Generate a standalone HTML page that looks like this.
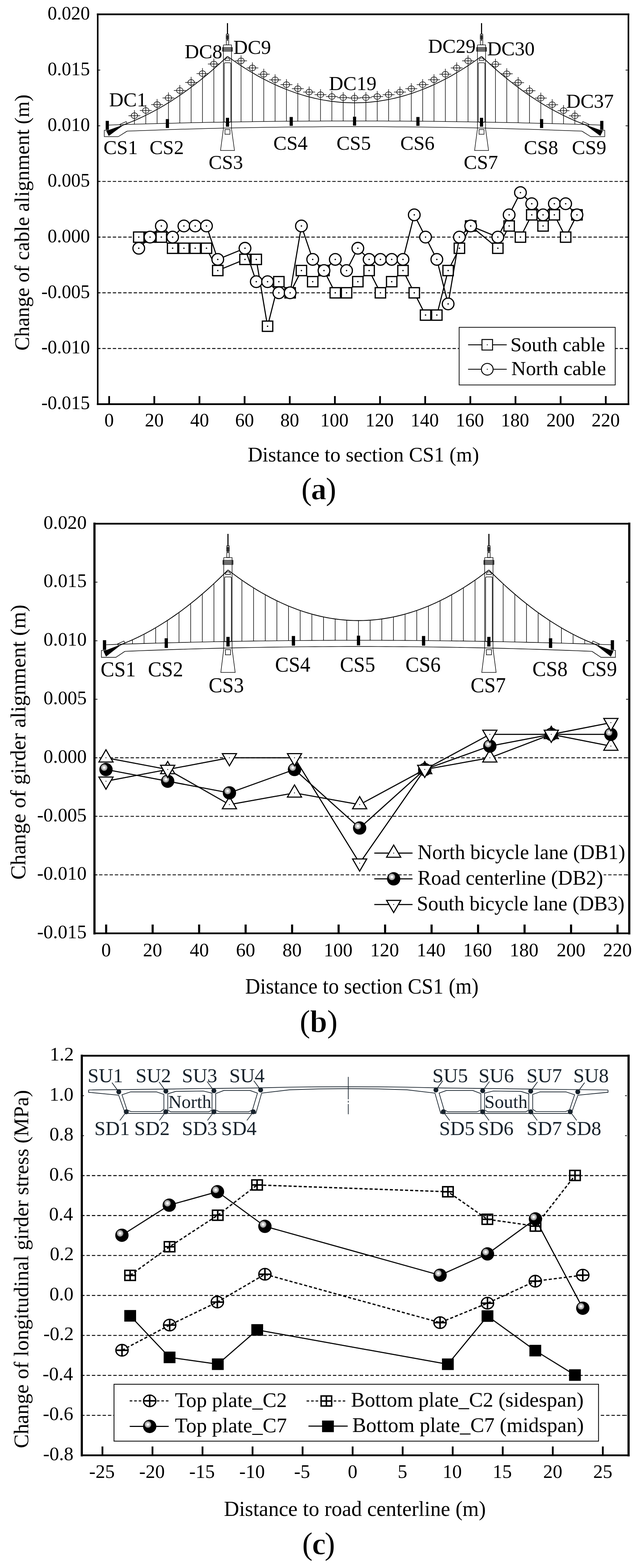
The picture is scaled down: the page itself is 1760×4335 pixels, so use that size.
<!DOCTYPE html>
<html><head><meta charset="utf-8"><title>Figure</title>
<style>html,body{margin:0;padding:0;background:#fff;}svg{display:block;}</style>
</head><body>
<svg width="1760" height="4335" viewBox="0 0 1760 4335" font-family="'Liberation Serif', 'Times New Roman', serif">
<g id="chartA">
<path d="M268.3,501.59 H1736.3" stroke="#000" stroke-width="2.4" stroke-dasharray="9.3 5.14"/>
<path d="M268.3,655.56 H1736.3" stroke="#000" stroke-width="2.4" stroke-dasharray="9.3 5.14"/>
<path d="M268.3,809.52 H1736.3" stroke="#000" stroke-width="2.4" stroke-dasharray="9.3 5.14"/>
<path d="M268.3,963.49 H1736.3" stroke="#000" stroke-width="2.4" stroke-dasharray="9.3 5.14"/>
<g fill="none" stroke="#000" stroke-width="1.5">
<path d="M300.8,345.7 L323.82,344.95 L346.85,344.22 L369.87,343.52 L392.89,342.84 L415.92,342.19 L438.94,341.57 L461.97,340.97 L484.99,340.4 L508.01,339.85 L531.04,339.33 L554.06,338.84 L577.08,338.37 L600.11,337.93 L623.13,337.52 L646.16,337.13 L669.18,336.76 L692.2,336.42 L715.23,336.11 L738.25,335.83 L761.27,335.57 L784.3,335.33 L807.32,335.13 L830.35,334.95 L853.37,334.79 L876.39,334.66 L899.42,334.56 L922.44,334.48 L945.46,334.43 L968.49,334.4 L991.51,334.4 L1014.54,334.43 L1037.56,334.48 L1060.58,334.56 L1083.61,334.67 L1106.63,334.8 L1129.65,334.95 L1152.68,335.14 L1175.7,335.34 L1198.73,335.58 L1221.75,335.84 L1244.77,336.13 L1267.8,336.44 L1290.82,336.78 L1313.84,337.14 L1336.87,337.53 L1359.89,337.95 L1382.92,338.39 L1405.94,338.86 L1428.96,339.36 L1451.99,339.88 L1475.01,340.42 L1498.03,341 L1521.06,341.59 L1544.08,342.22 L1567.11,342.87 L1590.13,343.55 L1613.15,344.25 L1636.18,344.98 L1659.2,345.73" />
<path d="M351.2,362.5 L372.5,361.68 L393.8,360.89 L415.09,360.13 L436.39,359.39 L457.69,358.68 L478.99,358.01 L500.29,357.36 L521.59,356.73 L542.88,356.14 L564.18,355.57 L585.48,355.04 L606.78,354.53 L628.08,354.05 L649.38,353.6 L670.67,353.17 L691.97,352.78 L713.27,352.41 L734.57,352.07 L755.87,351.76 L777.17,351.48 L798.46,351.22 L819.76,351 L841.06,350.8 L862.36,350.63 L883.66,350.49 L904.96,350.37 L926.25,350.29 L947.55,350.23 L968.85,350.2 L990.15,350.2 L1011.45,350.23 L1032.75,350.29 L1054.04,350.37 L1075.34,350.49 L1096.64,350.63 L1117.94,350.8 L1139.24,351 L1160.54,351.22 L1181.83,351.48 L1203.13,351.76 L1224.43,352.07 L1245.73,352.41 L1267.03,352.78 L1288.33,353.17 L1309.62,353.6 L1330.92,354.05 L1352.22,354.53 L1373.52,355.04 L1394.82,355.57 L1416.12,356.14 L1437.41,356.73 L1458.71,357.36 L1480.01,358.01 L1501.31,358.68 L1522.61,359.39 L1543.91,360.13 L1565.2,360.89 L1586.5,361.68 L1607.8,362.5" />
<polyline points="300.6,360.2 288.1,360.2 288.1,377.8 326.8,377.8 351.2,362.5" />
<polygon points="294,362.3 300.6,375.4 341.2,345.3" fill="#000" stroke="#000" stroke-width="0.8"/>
<polygon points="331.5,343.6 348.7,336.3 351.2,341.5 334,348.8" />
<g transform="matrix(-1,0,0,1,1959,0)">
<polyline points="300.6,360.2 288.1,360.2 288.1,377.8 326.8,377.8 351.2,362.5" />
<polygon points="294,362.3 300.6,375.4 341.2,345.3" fill="#000" stroke="#000" stroke-width="0.8"/>
<polygon points="331.5,343.6 348.7,336.3 351.2,341.5 334,348.8" />
</g>
<path d="M341.2,345.12 L348.57,342.38 L355.93,339.53 L363.3,336.57 L370.67,333.5 L378.03,330.31 L385.4,327.02 L392.77,323.61 L400.13,320.09 L407.5,316.46 L414.87,312.72 L422.23,308.87 L429.6,304.91 L436.97,300.83 L444.33,296.64 L451.7,292.34 L459.07,287.93 L466.43,283.41 L473.8,278.78 L481.17,274.03 L488.53,269.17 L495.9,264.21 L503.27,259.13 L510.63,253.94 L518,248.63 L525.37,243.22 L532.73,237.69 L540.1,232.06 L547.47,226.31 L554.83,220.45 L562.2,214.47 L569.57,208.39 L576.93,202.2 L584.3,195.89 L591.67,189.47 L599.03,182.94 L606.4,176.3 L613.77,169.55 L621.13,162.69 L628.5,155.71" stroke-width="2"/>
<path d="M628.5,155.71 L637.39,162.03 L646.27,168.3 L655.16,174.41 L664.04,180.35 L672.93,186.12 L681.82,191.73 L690.7,197.17 L699.59,202.45 L708.47,207.57 L717.36,212.52 L726.25,217.3 L735.13,221.92 L744.02,226.37 L752.91,230.66 L761.79,234.79 L770.68,238.75 L779.56,242.54 L788.45,246.17 L797.34,249.63 L806.22,252.93 L815.11,256.07 L823.99,259.04 L832.88,261.84 L841.77,264.48 L850.65,266.96 L859.54,269.27 L868.42,271.41 L877.31,273.39 L886.2,275.21 L895.08,276.86 L903.97,278.34 L912.85,279.66 L921.74,280.81 L930.63,281.8 L939.51,282.63 L948.4,283.29 L957.28,283.78 L966.17,284.11 L975.06,284.28 L983.94,284.28 L992.83,284.11 L1001.72,283.78 L1010.6,283.29 L1019.49,282.63 L1028.37,281.8 L1037.26,280.81 L1046.15,279.66 L1055.03,278.34 L1063.92,276.86 L1072.8,275.21 L1081.69,273.39 L1090.58,271.41 L1099.46,269.27 L1108.35,266.96 L1117.23,264.48 L1126.12,261.84 L1135.01,259.04 L1143.89,256.07 L1152.78,252.93 L1161.66,249.63 L1170.55,246.17 L1179.44,242.54 L1188.32,238.75 L1197.21,234.79 L1206.09,230.66 L1214.98,226.37 L1223.87,221.92 L1232.75,217.3 L1241.64,212.52 L1250.53,207.57 L1259.41,202.45 L1268.3,197.17 L1277.18,191.73 L1286.07,186.12 L1294.96,180.35 L1303.84,174.41 L1312.73,168.3 L1321.61,162.03 L1330.5,155.71" stroke-width="2"/>
<path d="M1330.5,155.71 L1337.87,162.69 L1345.23,169.55 L1352.6,176.3 L1359.97,182.94 L1367.33,189.47 L1374.7,195.89 L1382.07,202.2 L1389.43,208.39 L1396.8,214.47 L1404.17,220.45 L1411.53,226.31 L1418.9,232.06 L1426.27,237.69 L1433.63,243.22 L1441,248.63 L1448.37,253.94 L1455.73,259.13 L1463.1,264.21 L1470.47,269.17 L1477.83,274.03 L1485.2,278.78 L1492.57,283.41 L1499.93,287.93 L1507.3,292.34 L1514.67,296.64 L1522.03,300.83 L1529.4,304.91 L1536.77,308.87 L1544.13,312.72 L1551.5,316.46 L1558.87,320.09 L1566.23,323.61 L1573.6,327.02 L1580.97,330.31 L1588.33,333.5 L1595.7,336.57 L1603.07,339.53 L1610.43,342.38 L1617.8,345.12" stroke-width="2"/>
<path d="M371.4,304.59 V343.47 M402.74,290.22 V342.56 M434.08,273.84 V341.7 M465.42,255.44 V340.88 M496.76,235.02 V340.12 M528.1,212.58 V339.4 M559.44,188.13 V338.73 M590.78,161.65 V338.11 M666,153.03 V336.81 M697.36,172.54 V336.35 M728.72,190 V335.94 M760.08,205.41 V335.58 M791.44,218.75 V335.27 M822.8,230.05 V335 M854.16,239.29 V334.79 M885.52,246.47 V334.62 M916.88,251.6 V334.5 M948.24,254.68 V334.42 M979.6,255.7 V334.4 M1010.96,254.67 V334.42 M1042.32,251.58 V334.5 M1073.68,246.43 V334.62 M1105.04,239.24 V334.79 M1136.4,229.98 V335 M1167.76,218.68 V335.27 M1199.12,205.31 V335.58 M1230.48,189.9 V335.95 M1261.84,172.43 V336.36 M1293.2,152.9 V336.81 M1368.9,162.25 V338.12 M1400.25,188.69 V338.74 M1431.6,213.1 V339.41 M1462.95,235.5 V340.13 M1494.3,255.88 V340.9 M1525.65,274.24 V341.72 M1557,290.58 V342.58 M1588.35,304.91 V343.49" />
<path d="M617.2,124.2 H639.6 V356.1 M617.2,124.2 V356.1" />
<rect x="615" y="131.3" width="27" height="10.4" />
<path d="M615,133.9 H642" />
<path d="M615,136.5 H642" />
<path d="M615,139.1 H642" />
<rect x="619.6" y="173.4" width="18.1" height="164.5" rx="3" />
<path d="M621.5,166.8 A7,6.5 0 0 1 635.5,166.8 Z" />
<rect x="625.3" y="94.4" width="6.6" height="29.8" />
<path d="M623.9,99.5 H633.1" />
<path d="M623.9,102.8 H633.1" />
<path d="M623.9,106.1 H633.1" />
<rect x="627.1" y="96.6" width="2.8" height="16" fill="#000" stroke="none"/>
<path d="M628.5,64 V94.4" stroke-width="3"/>
<path d="M617.2,356.1 L609.3,416 H647.9 L639.6,356.1" />
<rect x="621.6" y="358.1" width="13.8" height="13.2" />
<path d="M1319.2,124.2 H1341.6 V356.1 M1319.2,124.2 V356.1" />
<rect x="1317" y="131.3" width="27" height="10.4" />
<path d="M1317,133.9 H1344" />
<path d="M1317,136.5 H1344" />
<path d="M1317,139.1 H1344" />
<rect x="1321.6" y="173.4" width="18.1" height="164.5" rx="3" />
<path d="M1323.5,166.8 A7,6.5 0 0 1 1337.5,166.8 Z" />
<rect x="1327.3" y="94.4" width="6.6" height="29.8" />
<path d="M1325.9,99.5 H1335.1" />
<path d="M1325.9,102.8 H1335.1" />
<path d="M1325.9,106.1 H1335.1" />
<rect x="1329.1" y="96.6" width="2.8" height="16" fill="#000" stroke="none"/>
<path d="M1330.5,64 V94.4" stroke-width="3"/>
<path d="M1319.2,356.1 L1311.3,416 H1349.9 L1341.6,356.1" />
<rect x="1323.6" y="358.1" width="13.8" height="13.2" />
</g>
<g fill="#000">
<rect x="292" y="334.15" width="8.8" height="24.6" />
<rect x="458.1" y="329.26" width="8.8" height="24.6" />
<rect x="624.2" y="325.72" width="8.8" height="24.6" />
<rect x="800.2" y="323.45" width="8.8" height="24.6" />
<rect x="975.25" y="322.7" width="8.8" height="24.6" />
<rect x="1150.35" y="323.45" width="8.8" height="24.6" />
<rect x="1326" y="325.72" width="8.8" height="24.6" />
<rect x="1492" y="329.25" width="8.8" height="24.6" />
<rect x="1658.3" y="334.15" width="8.8" height="24.6" />
</g>
<g fill="none" stroke="#000" stroke-width="1.5">
<ellipse cx="371.4" cy="319.89" rx="9" ry="7.8" />
<ellipse cx="402.74" cy="305.52" rx="9" ry="7.8" />
<ellipse cx="434.08" cy="289.14" rx="9" ry="7.8" />
<ellipse cx="465.42" cy="270.74" rx="9" ry="7.8" />
<ellipse cx="496.76" cy="250.32" rx="9" ry="7.8" />
<ellipse cx="528.1" cy="227.88" rx="9" ry="7.8" />
<ellipse cx="559.44" cy="203.43" rx="9" ry="7.8" />
<ellipse cx="590.78" cy="176.95" rx="9" ry="7.8" />
<ellipse cx="666" cy="168.33" rx="9" ry="7.8" />
<ellipse cx="697.36" cy="187.84" rx="9" ry="7.8" />
<ellipse cx="728.72" cy="205.3" rx="9" ry="7.8" />
<ellipse cx="760.08" cy="220.71" rx="9" ry="7.8" />
<ellipse cx="791.44" cy="234.05" rx="9" ry="7.8" />
<ellipse cx="822.8" cy="245.35" rx="9" ry="7.8" />
<ellipse cx="854.16" cy="254.59" rx="9" ry="7.8" />
<ellipse cx="885.52" cy="261.77" rx="9" ry="7.8" />
<ellipse cx="916.88" cy="266.9" rx="9" ry="7.8" />
<ellipse cx="948.24" cy="269.98" rx="9" ry="7.8" />
<ellipse cx="979.6" cy="271" rx="9" ry="7.8" />
<ellipse cx="1010.96" cy="269.97" rx="9" ry="7.8" />
<ellipse cx="1042.32" cy="266.88" rx="9" ry="7.8" />
<ellipse cx="1073.68" cy="261.73" rx="9" ry="7.8" />
<ellipse cx="1105.04" cy="254.54" rx="9" ry="7.8" />
<ellipse cx="1136.4" cy="245.28" rx="9" ry="7.8" />
<ellipse cx="1167.76" cy="233.98" rx="9" ry="7.8" />
<ellipse cx="1199.12" cy="220.61" rx="9" ry="7.8" />
<ellipse cx="1230.48" cy="205.2" rx="9" ry="7.8" />
<ellipse cx="1261.84" cy="187.73" rx="9" ry="7.8" />
<ellipse cx="1293.2" cy="168.2" rx="9" ry="7.8" />
<ellipse cx="1368.9" cy="177.55" rx="9" ry="7.8" />
<ellipse cx="1400.25" cy="203.99" rx="9" ry="7.8" />
<ellipse cx="1431.6" cy="228.4" rx="9" ry="7.8" />
<ellipse cx="1462.95" cy="250.8" rx="9" ry="7.8" />
<ellipse cx="1494.3" cy="271.18" rx="9" ry="7.8" />
<ellipse cx="1525.65" cy="289.54" rx="9" ry="7.8" />
<ellipse cx="1557" cy="305.88" rx="9" ry="7.8" />
<ellipse cx="1588.35" cy="320.21" rx="9" ry="7.8" />
<path d="M355,319.89 H387.8 M386.34,305.52 H419.14 M417.68,289.14 H450.48 M449.02,270.74 H481.82 M480.36,250.32 H513.16 M511.7,227.88 H544.5 M543.04,203.43 H575.84 M574.38,176.95 H607.18 M649.6,168.33 H682.4 M680.96,187.84 H713.76 M712.32,205.3 H745.12 M743.68,220.71 H776.48 M775.04,234.05 H807.84 M806.4,245.35 H839.2 M837.76,254.59 H870.56 M869.12,261.77 H901.92 M900.48,266.9 H933.28 M931.84,269.98 H964.64 M963.2,271 H996 M994.56,269.97 H1027.36 M1025.92,266.88 H1058.72 M1057.28,261.73 H1090.08 M1088.64,254.54 H1121.44 M1120,245.28 H1152.8 M1151.36,233.98 H1184.16 M1182.72,220.61 H1215.52 M1214.08,205.2 H1246.88 M1245.44,187.73 H1278.24 M1276.8,168.2 H1309.6 M1352.5,177.55 H1385.3 M1383.85,203.99 H1416.65 M1415.2,228.4 H1448 M1446.55,250.8 H1479.35 M1477.9,271.18 H1510.7 M1509.25,289.54 H1542.05 M1540.6,305.88 H1573.4 M1571.95,320.21 H1604.75" />
</g>
<text x="285.91" y="426" font-size="55">CS1</text>
<text x="413.18" y="426" font-size="55">CS2</text>
<text x="576.61" y="467" font-size="55">CS3</text>
<text x="755.33" y="413.8" font-size="55">CS4</text>
<text x="929.86" y="413.8" font-size="55">CS5</text>
<text x="1105.99" y="413.8" font-size="55">CS6</text>
<text x="1281.24" y="467" font-size="55">CS7</text>
<text x="1447.56" y="425.5" font-size="55">CS8</text>
<text x="1580.36" y="425.5" font-size="55">CS9</text>
<text x="301.5" y="294.2" font-size="55">DC1</text>
<text x="510.25" y="161.2" font-size="55">DC8</text>
<text x="644.75" y="149.4" font-size="55">DC9</text>
<text x="908.8" y="248.9" font-size="55">DC19</text>
<text x="1182.8" y="146" font-size="55">DC29</text>
<text x="1345.9" y="153" font-size="55">DC30</text>
<text x="1564.28" y="297.8" font-size="55">DC37</text>
<path d="M270,39.7 H276.9 M1728.6,39.7 H1733.8 M270,193.66 H276.9 M1728.6,193.66 H1733.8 M270,347.63 H276.9 M1728.6,347.63 H1733.8 M270,501.59 H276.9 M1728.6,501.59 H1733.8 M270,655.56 H276.9 M1728.6,655.56 H1733.8 M270,809.52 H276.9 M1728.6,809.52 H1733.8 M270,963.49 H276.9 M1728.6,963.49 H1733.8 M270,1117.45 H276.9 M1728.6,1117.45 H1733.8" stroke="#000" stroke-width="2"/>
<path d="M301.6,1117.45 V1095 M426.34,1117.45 V1095 M551.08,1117.45 V1095 M675.82,1117.45 V1095 M800.56,1117.45 V1095 M925.3,1117.45 V1095 M1050.04,1117.45 V1095 M1174.78,1117.45 V1095 M1299.52,1117.45 V1095 M1424.26,1117.45 V1095 M1549,1117.45 V1095 M1673.74,1117.45 V1095" stroke="#000" stroke-width="4.8"/>
<path d="M270,39.7 H1736.3 M270,1117.45 H1736.3" stroke="#000" stroke-width="4.8" stroke-linecap="square"/><path d="M270,39.7 V1117.45 M1736.3,39.7 V1117.45" stroke="#000" stroke-width="4.3" stroke-linecap="square"/>
<text x="131.58" y="53.7" font-size="52">0.020</text>
<text x="131.58" y="207.66" font-size="52">0.015</text>
<text x="131.58" y="361.63" font-size="52">0.010</text>
<text x="131.58" y="515.59" font-size="52">0.005</text>
<text x="131.58" y="669.56" font-size="52">0.000</text>
<text x="114.16" y="823.52" font-size="52">-0.005</text>
<text x="114.16" y="977.49" font-size="52">-0.010</text>
<text x="114.16" y="1131.45" font-size="52">-0.015</text>
<text x="288.6" y="1179.4" font-size="52">0</text>
<text x="400.21" y="1179.4" font-size="52">20</text>
<text x="525.6" y="1179.4" font-size="52">40</text>
<text x="649.69" y="1179.4" font-size="52">60</text>
<text x="774.56" y="1179.4" font-size="52">80</text>
<text x="885" y="1179.4" font-size="52">100</text>
<text x="1009.74" y="1179.4" font-size="52">120</text>
<text x="1134.48" y="1179.4" font-size="52">140</text>
<text x="1259.22" y="1179.4" font-size="52">160</text>
<text x="1383.96" y="1179.4" font-size="52">180</text>
<text x="1509.87" y="1179.4" font-size="52">200</text>
<text x="1634.61" y="1179.4" font-size="52">220</text>
<text transform="translate(80,969.13) rotate(-90)" x="0" y="0" font-size="56.9">Change of cable alignment (m)</text>
<text x="684.39" y="1275.8" font-size="56.7">Distance to section CS1 (m)</text>
<g font-size="86"><text x="832.83" y="1380.5">(</text><text x="900.16" y="1380.5">)</text><text x="859.25" y="1380.5" font-weight="bold" stroke="#fff" stroke-width="1.2">a</text></g>
<polyline points="383.4,655.56 414.58,655.56 445.76,655.56 476.94,686.35 508.12,686.35 539.3,686.35 570.48,686.35 601.66,747.94 676.9,717.14 708.08,717.14 739.26,901.9 770.44,778.73 801.62,809.52 832.8,747.94 863.98,778.73 895.16,747.94 926.34,809.52 957.52,809.52 988.7,778.73 1019.88,747.94 1051.06,809.52 1082.24,778.73 1113.42,747.94 1144.6,809.52 1175.78,871.11 1206.96,871.11 1238.14,747.94 1269.32,686.35 1300.5,624.76 1375.5,686.35 1406.73,624.76 1437.96,655.56 1469.19,593.97 1500.42,624.76 1531.65,593.97 1562.88,655.56 1594.11,593.97" fill="none" stroke="#000" stroke-width="3" stroke-linejoin="round"/>
<g transform="translate(383.4,655.56)"><rect x="-14.35" y="-14.2" width="28.7" height="28.4" fill="#fff" stroke="#000" stroke-width="3.4"/><circle r="2" fill="#000"/></g><g transform="translate(414.58,655.56)"><rect x="-14.35" y="-14.2" width="28.7" height="28.4" fill="#fff" stroke="#000" stroke-width="3.4"/><circle r="2" fill="#000"/></g><g transform="translate(445.76,655.56)"><rect x="-14.35" y="-14.2" width="28.7" height="28.4" fill="#fff" stroke="#000" stroke-width="3.4"/><circle r="2" fill="#000"/></g><g transform="translate(476.94,686.35)"><rect x="-14.35" y="-14.2" width="28.7" height="28.4" fill="#fff" stroke="#000" stroke-width="3.4"/><circle r="2" fill="#000"/></g><g transform="translate(508.12,686.35)"><rect x="-14.35" y="-14.2" width="28.7" height="28.4" fill="#fff" stroke="#000" stroke-width="3.4"/><circle r="2" fill="#000"/></g><g transform="translate(539.3,686.35)"><rect x="-14.35" y="-14.2" width="28.7" height="28.4" fill="#fff" stroke="#000" stroke-width="3.4"/><circle r="2" fill="#000"/></g><g transform="translate(570.48,686.35)"><rect x="-14.35" y="-14.2" width="28.7" height="28.4" fill="#fff" stroke="#000" stroke-width="3.4"/><circle r="2" fill="#000"/></g><g transform="translate(601.66,747.94)"><rect x="-14.35" y="-14.2" width="28.7" height="28.4" fill="#fff" stroke="#000" stroke-width="3.4"/><circle r="2" fill="#000"/></g><g transform="translate(676.9,717.14)"><rect x="-14.35" y="-14.2" width="28.7" height="28.4" fill="#fff" stroke="#000" stroke-width="3.4"/><circle r="2" fill="#000"/></g><g transform="translate(708.08,717.14)"><rect x="-14.35" y="-14.2" width="28.7" height="28.4" fill="#fff" stroke="#000" stroke-width="3.4"/><circle r="2" fill="#000"/></g><g transform="translate(739.26,901.9)"><rect x="-14.35" y="-14.2" width="28.7" height="28.4" fill="#fff" stroke="#000" stroke-width="3.4"/><circle r="2" fill="#000"/></g><g transform="translate(770.44,778.73)"><rect x="-14.35" y="-14.2" width="28.7" height="28.4" fill="#fff" stroke="#000" stroke-width="3.4"/><circle r="2" fill="#000"/></g><g transform="translate(801.62,809.52)"><rect x="-14.35" y="-14.2" width="28.7" height="28.4" fill="#fff" stroke="#000" stroke-width="3.4"/><circle r="2" fill="#000"/></g><g transform="translate(832.8,747.94)"><rect x="-14.35" y="-14.2" width="28.7" height="28.4" fill="#fff" stroke="#000" stroke-width="3.4"/><circle r="2" fill="#000"/></g><g transform="translate(863.98,778.73)"><rect x="-14.35" y="-14.2" width="28.7" height="28.4" fill="#fff" stroke="#000" stroke-width="3.4"/><circle r="2" fill="#000"/></g><g transform="translate(895.16,747.94)"><rect x="-14.35" y="-14.2" width="28.7" height="28.4" fill="#fff" stroke="#000" stroke-width="3.4"/><circle r="2" fill="#000"/></g><g transform="translate(926.34,809.52)"><rect x="-14.35" y="-14.2" width="28.7" height="28.4" fill="#fff" stroke="#000" stroke-width="3.4"/><circle r="2" fill="#000"/></g><g transform="translate(957.52,809.52)"><rect x="-14.35" y="-14.2" width="28.7" height="28.4" fill="#fff" stroke="#000" stroke-width="3.4"/><circle r="2" fill="#000"/></g><g transform="translate(988.7,778.73)"><rect x="-14.35" y="-14.2" width="28.7" height="28.4" fill="#fff" stroke="#000" stroke-width="3.4"/><circle r="2" fill="#000"/></g><g transform="translate(1019.88,747.94)"><rect x="-14.35" y="-14.2" width="28.7" height="28.4" fill="#fff" stroke="#000" stroke-width="3.4"/><circle r="2" fill="#000"/></g><g transform="translate(1051.06,809.52)"><rect x="-14.35" y="-14.2" width="28.7" height="28.4" fill="#fff" stroke="#000" stroke-width="3.4"/><circle r="2" fill="#000"/></g><g transform="translate(1082.24,778.73)"><rect x="-14.35" y="-14.2" width="28.7" height="28.4" fill="#fff" stroke="#000" stroke-width="3.4"/><circle r="2" fill="#000"/></g><g transform="translate(1113.42,747.94)"><rect x="-14.35" y="-14.2" width="28.7" height="28.4" fill="#fff" stroke="#000" stroke-width="3.4"/><circle r="2" fill="#000"/></g><g transform="translate(1144.6,809.52)"><rect x="-14.35" y="-14.2" width="28.7" height="28.4" fill="#fff" stroke="#000" stroke-width="3.4"/><circle r="2" fill="#000"/></g><g transform="translate(1175.78,871.11)"><rect x="-14.35" y="-14.2" width="28.7" height="28.4" fill="#fff" stroke="#000" stroke-width="3.4"/><circle r="2" fill="#000"/></g><g transform="translate(1206.96,871.11)"><rect x="-14.35" y="-14.2" width="28.7" height="28.4" fill="#fff" stroke="#000" stroke-width="3.4"/><circle r="2" fill="#000"/></g><g transform="translate(1238.14,747.94)"><rect x="-14.35" y="-14.2" width="28.7" height="28.4" fill="#fff" stroke="#000" stroke-width="3.4"/><circle r="2" fill="#000"/></g><g transform="translate(1269.32,686.35)"><rect x="-14.35" y="-14.2" width="28.7" height="28.4" fill="#fff" stroke="#000" stroke-width="3.4"/><circle r="2" fill="#000"/></g><g transform="translate(1300.5,624.76)"><rect x="-14.35" y="-14.2" width="28.7" height="28.4" fill="#fff" stroke="#000" stroke-width="3.4"/><circle r="2" fill="#000"/></g><g transform="translate(1375.5,686.35)"><rect x="-14.35" y="-14.2" width="28.7" height="28.4" fill="#fff" stroke="#000" stroke-width="3.4"/><circle r="2" fill="#000"/></g><g transform="translate(1406.73,624.76)"><rect x="-14.35" y="-14.2" width="28.7" height="28.4" fill="#fff" stroke="#000" stroke-width="3.4"/><circle r="2" fill="#000"/></g><g transform="translate(1437.96,655.56)"><rect x="-14.35" y="-14.2" width="28.7" height="28.4" fill="#fff" stroke="#000" stroke-width="3.4"/><circle r="2" fill="#000"/></g><g transform="translate(1469.19,593.97)"><rect x="-14.35" y="-14.2" width="28.7" height="28.4" fill="#fff" stroke="#000" stroke-width="3.4"/><circle r="2" fill="#000"/></g><g transform="translate(1500.42,624.76)"><rect x="-14.35" y="-14.2" width="28.7" height="28.4" fill="#fff" stroke="#000" stroke-width="3.4"/><circle r="2" fill="#000"/></g><g transform="translate(1531.65,593.97)"><rect x="-14.35" y="-14.2" width="28.7" height="28.4" fill="#fff" stroke="#000" stroke-width="3.4"/><circle r="2" fill="#000"/></g><g transform="translate(1562.88,655.56)"><rect x="-14.35" y="-14.2" width="28.7" height="28.4" fill="#fff" stroke="#000" stroke-width="3.4"/><circle r="2" fill="#000"/></g><g transform="translate(1594.11,593.97)"><rect x="-14.35" y="-14.2" width="28.7" height="28.4" fill="#fff" stroke="#000" stroke-width="3.4"/><circle r="2" fill="#000"/></g>
<polyline points="383.4,686.35 414.58,655.56 445.76,624.76 476.94,655.56 508.12,624.76 539.3,624.76 570.48,624.76 601.66,717.14 676.9,686.35 708.08,778.73 739.26,778.73 770.44,809.52 801.62,809.52 832.8,624.76 863.98,717.14 895.16,747.94 926.34,717.14 957.52,747.94 988.7,686.35 1019.88,717.14 1051.06,717.14 1082.24,717.14 1113.42,717.14 1144.6,593.97 1175.78,655.56 1206.96,717.14 1238.14,840.31 1269.32,655.56 1300.5,624.76 1375.5,655.56 1406.73,593.97 1437.96,532.39 1469.19,563.18 1500.42,593.97 1531.65,563.18 1562.88,563.18 1594.11,593.97" fill="none" stroke="#000" stroke-width="3" stroke-linejoin="round"/>
<g transform="translate(383.4,686.35)"><circle r="16.1" fill="#fff" stroke="#000" stroke-width="3.3"/><circle r="2" fill="#000"/></g><g transform="translate(414.58,655.56)"><circle r="16.1" fill="#fff" stroke="#000" stroke-width="3.3"/><circle r="2" fill="#000"/></g><g transform="translate(445.76,624.76)"><circle r="16.1" fill="#fff" stroke="#000" stroke-width="3.3"/><circle r="2" fill="#000"/></g><g transform="translate(476.94,655.56)"><circle r="16.1" fill="#fff" stroke="#000" stroke-width="3.3"/><circle r="2" fill="#000"/></g><g transform="translate(508.12,624.76)"><circle r="16.1" fill="#fff" stroke="#000" stroke-width="3.3"/><circle r="2" fill="#000"/></g><g transform="translate(539.3,624.76)"><circle r="16.1" fill="#fff" stroke="#000" stroke-width="3.3"/><circle r="2" fill="#000"/></g><g transform="translate(570.48,624.76)"><circle r="16.1" fill="#fff" stroke="#000" stroke-width="3.3"/><circle r="2" fill="#000"/></g><g transform="translate(601.66,717.14)"><circle r="16.1" fill="#fff" stroke="#000" stroke-width="3.3"/><circle r="2" fill="#000"/></g><g transform="translate(676.9,686.35)"><circle r="16.1" fill="#fff" stroke="#000" stroke-width="3.3"/><circle r="2" fill="#000"/></g><g transform="translate(708.08,778.73)"><circle r="16.1" fill="#fff" stroke="#000" stroke-width="3.3"/><circle r="2" fill="#000"/></g><g transform="translate(739.26,778.73)"><circle r="16.1" fill="#fff" stroke="#000" stroke-width="3.3"/><circle r="2" fill="#000"/></g><g transform="translate(770.44,809.52)"><circle r="16.1" fill="#fff" stroke="#000" stroke-width="3.3"/><circle r="2" fill="#000"/></g><g transform="translate(801.62,809.52)"><circle r="16.1" fill="#fff" stroke="#000" stroke-width="3.3"/><circle r="2" fill="#000"/></g><g transform="translate(832.8,624.76)"><circle r="16.1" fill="#fff" stroke="#000" stroke-width="3.3"/><circle r="2" fill="#000"/></g><g transform="translate(863.98,717.14)"><circle r="16.1" fill="#fff" stroke="#000" stroke-width="3.3"/><circle r="2" fill="#000"/></g><g transform="translate(895.16,747.94)"><circle r="16.1" fill="#fff" stroke="#000" stroke-width="3.3"/><circle r="2" fill="#000"/></g><g transform="translate(926.34,717.14)"><circle r="16.1" fill="#fff" stroke="#000" stroke-width="3.3"/><circle r="2" fill="#000"/></g><g transform="translate(957.52,747.94)"><circle r="16.1" fill="#fff" stroke="#000" stroke-width="3.3"/><circle r="2" fill="#000"/></g><g transform="translate(988.7,686.35)"><circle r="16.1" fill="#fff" stroke="#000" stroke-width="3.3"/><circle r="2" fill="#000"/></g><g transform="translate(1019.88,717.14)"><circle r="16.1" fill="#fff" stroke="#000" stroke-width="3.3"/><circle r="2" fill="#000"/></g><g transform="translate(1051.06,717.14)"><circle r="16.1" fill="#fff" stroke="#000" stroke-width="3.3"/><circle r="2" fill="#000"/></g><g transform="translate(1082.24,717.14)"><circle r="16.1" fill="#fff" stroke="#000" stroke-width="3.3"/><circle r="2" fill="#000"/></g><g transform="translate(1113.42,717.14)"><circle r="16.1" fill="#fff" stroke="#000" stroke-width="3.3"/><circle r="2" fill="#000"/></g><g transform="translate(1144.6,593.97)"><circle r="16.1" fill="#fff" stroke="#000" stroke-width="3.3"/><circle r="2" fill="#000"/></g><g transform="translate(1175.78,655.56)"><circle r="16.1" fill="#fff" stroke="#000" stroke-width="3.3"/><circle r="2" fill="#000"/></g><g transform="translate(1206.96,717.14)"><circle r="16.1" fill="#fff" stroke="#000" stroke-width="3.3"/><circle r="2" fill="#000"/></g><g transform="translate(1238.14,840.31)"><circle r="16.1" fill="#fff" stroke="#000" stroke-width="3.3"/><circle r="2" fill="#000"/></g><g transform="translate(1269.32,655.56)"><circle r="16.1" fill="#fff" stroke="#000" stroke-width="3.3"/><circle r="2" fill="#000"/></g><g transform="translate(1300.5,624.76)"><circle r="16.1" fill="#fff" stroke="#000" stroke-width="3.3"/><circle r="2" fill="#000"/></g><g transform="translate(1375.5,655.56)"><circle r="16.1" fill="#fff" stroke="#000" stroke-width="3.3"/><circle r="2" fill="#000"/></g><g transform="translate(1406.73,593.97)"><circle r="16.1" fill="#fff" stroke="#000" stroke-width="3.3"/><circle r="2" fill="#000"/></g><g transform="translate(1437.96,532.39)"><circle r="16.1" fill="#fff" stroke="#000" stroke-width="3.3"/><circle r="2" fill="#000"/></g><g transform="translate(1469.19,563.18)"><circle r="16.1" fill="#fff" stroke="#000" stroke-width="3.3"/><circle r="2" fill="#000"/></g><g transform="translate(1500.42,593.97)"><circle r="16.1" fill="#fff" stroke="#000" stroke-width="3.3"/><circle r="2" fill="#000"/></g><g transform="translate(1531.65,563.18)"><circle r="16.1" fill="#fff" stroke="#000" stroke-width="3.3"/><circle r="2" fill="#000"/></g><g transform="translate(1562.88,563.18)"><circle r="16.1" fill="#fff" stroke="#000" stroke-width="3.3"/><circle r="2" fill="#000"/></g><g transform="translate(1594.11,593.97)"><circle r="16.1" fill="#fff" stroke="#000" stroke-width="3.3"/><circle r="2" fill="#000"/></g>
<rect x="1268.6" y="904.9" width="431.2" height="159.4" fill="#fff" stroke="#000" stroke-width="2"/>
<path d="M1293.3,953.2 H1400 M1293.3,1020.9 H1400" stroke="#000" stroke-width="2.4"/>
<rect x="1331.7" y="938.6" width="29.2" height="29.2" fill="#fff" stroke="#000" stroke-width="2.6"/><rect x="1345.1" y="952" width="2.4" height="2.4"/>
<circle cx="1346.3" cy="1020.9" r="16.2" fill="#fff" stroke="#000" stroke-width="2.6"/><rect x="1345.1" y="1019.7" width="2.4" height="2.4"/>
<text x="1410.17" y="970.6" font-size="55.8">South cable</text>
<text x="1412.63" y="1037.3" font-size="55.8">North cable</text>
</g>
<g id="chartB">
<path d="M259.3,2095.03 H1738.6" stroke="#000" stroke-width="2.4" stroke-dasharray="9.3 5.2"/>
<path d="M259.3,2256.84 H1738.6" stroke="#000" stroke-width="2.4" stroke-dasharray="9.3 5.2"/>
<path d="M259.3,2418.64 H1738.6" stroke="#000" stroke-width="2.4" stroke-dasharray="9.3 5.2"/>
<g transform="matrix(1.02700,0,0,1.08800,-15.603,1406.367)">
<g fill="none" stroke="#000" stroke-width="1.5">
<path d="M300.8,345.7 L323.82,344.95 L346.85,344.22 L369.87,343.52 L392.89,342.84 L415.92,342.19 L438.94,341.57 L461.97,340.97 L484.99,340.4 L508.01,339.85 L531.04,339.33 L554.06,338.84 L577.08,338.37 L600.11,337.93 L623.13,337.52 L646.16,337.13 L669.18,336.76 L692.2,336.42 L715.23,336.11 L738.25,335.83 L761.27,335.57 L784.3,335.33 L807.32,335.13 L830.35,334.95 L853.37,334.79 L876.39,334.66 L899.42,334.56 L922.44,334.48 L945.46,334.43 L968.49,334.4 L991.51,334.4 L1014.54,334.43 L1037.56,334.48 L1060.58,334.56 L1083.61,334.67 L1106.63,334.8 L1129.65,334.95 L1152.68,335.14 L1175.7,335.34 L1198.73,335.58 L1221.75,335.84 L1244.77,336.13 L1267.8,336.44 L1290.82,336.78 L1313.84,337.14 L1336.87,337.53 L1359.89,337.95 L1382.92,338.39 L1405.94,338.86 L1428.96,339.36 L1451.99,339.88 L1475.01,340.42 L1498.03,341 L1521.06,341.59 L1544.08,342.22 L1567.11,342.87 L1590.13,343.55 L1613.15,344.25 L1636.18,344.98 L1659.2,345.73" />
<path d="M351.2,362.5 L372.5,361.68 L393.8,360.89 L415.09,360.13 L436.39,359.39 L457.69,358.68 L478.99,358.01 L500.29,357.36 L521.59,356.73 L542.88,356.14 L564.18,355.57 L585.48,355.04 L606.78,354.53 L628.08,354.05 L649.38,353.6 L670.67,353.17 L691.97,352.78 L713.27,352.41 L734.57,352.07 L755.87,351.76 L777.17,351.48 L798.46,351.22 L819.76,351 L841.06,350.8 L862.36,350.63 L883.66,350.49 L904.96,350.37 L926.25,350.29 L947.55,350.23 L968.85,350.2 L990.15,350.2 L1011.45,350.23 L1032.75,350.29 L1054.04,350.37 L1075.34,350.49 L1096.64,350.63 L1117.94,350.8 L1139.24,351 L1160.54,351.22 L1181.83,351.48 L1203.13,351.76 L1224.43,352.07 L1245.73,352.41 L1267.03,352.78 L1288.33,353.17 L1309.62,353.6 L1330.92,354.05 L1352.22,354.53 L1373.52,355.04 L1394.82,355.57 L1416.12,356.14 L1437.41,356.73 L1458.71,357.36 L1480.01,358.01 L1501.31,358.68 L1522.61,359.39 L1543.91,360.13 L1565.2,360.89 L1586.5,361.68 L1607.8,362.5" />
<polyline points="300.6,360.2 288.1,360.2 288.1,377.8 326.8,377.8 351.2,362.5" />
<polygon points="294,362.3 300.6,375.4 341.2,345.3" fill="#000" stroke="#000" stroke-width="0.8"/>
<polygon points="331.5,343.6 348.7,336.3 351.2,341.5 334,348.8" />
<g transform="matrix(-1,0,0,1,1959,0)">
<polyline points="300.6,360.2 288.1,360.2 288.1,377.8 326.8,377.8 351.2,362.5" />
<polygon points="294,362.3 300.6,375.4 341.2,345.3" fill="#000" stroke="#000" stroke-width="0.8"/>
<polygon points="331.5,343.6 348.7,336.3 351.2,341.5 334,348.8" />
</g>
<path d="M341.2,345.12 L348.57,342.38 L355.93,339.53 L363.3,336.57 L370.67,333.5 L378.03,330.31 L385.4,327.02 L392.77,323.61 L400.13,320.09 L407.5,316.46 L414.87,312.72 L422.23,308.87 L429.6,304.91 L436.97,300.83 L444.33,296.64 L451.7,292.34 L459.07,287.93 L466.43,283.41 L473.8,278.78 L481.17,274.03 L488.53,269.17 L495.9,264.21 L503.27,259.13 L510.63,253.94 L518,248.63 L525.37,243.22 L532.73,237.69 L540.1,232.06 L547.47,226.31 L554.83,220.45 L562.2,214.47 L569.57,208.39 L576.93,202.2 L584.3,195.89 L591.67,189.47 L599.03,182.94 L606.4,176.3 L613.77,169.55 L621.13,162.69 L628.5,155.71" stroke-width="2"/>
<path d="M628.5,155.71 L637.39,162.03 L646.27,168.3 L655.16,174.41 L664.04,180.35 L672.93,186.12 L681.82,191.73 L690.7,197.17 L699.59,202.45 L708.47,207.57 L717.36,212.52 L726.25,217.3 L735.13,221.92 L744.02,226.37 L752.91,230.66 L761.79,234.79 L770.68,238.75 L779.56,242.54 L788.45,246.17 L797.34,249.63 L806.22,252.93 L815.11,256.07 L823.99,259.04 L832.88,261.84 L841.77,264.48 L850.65,266.96 L859.54,269.27 L868.42,271.41 L877.31,273.39 L886.2,275.21 L895.08,276.86 L903.97,278.34 L912.85,279.66 L921.74,280.81 L930.63,281.8 L939.51,282.63 L948.4,283.29 L957.28,283.78 L966.17,284.11 L975.06,284.28 L983.94,284.28 L992.83,284.11 L1001.72,283.78 L1010.6,283.29 L1019.49,282.63 L1028.37,281.8 L1037.26,280.81 L1046.15,279.66 L1055.03,278.34 L1063.92,276.86 L1072.8,275.21 L1081.69,273.39 L1090.58,271.41 L1099.46,269.27 L1108.35,266.96 L1117.23,264.48 L1126.12,261.84 L1135.01,259.04 L1143.89,256.07 L1152.78,252.93 L1161.66,249.63 L1170.55,246.17 L1179.44,242.54 L1188.32,238.75 L1197.21,234.79 L1206.09,230.66 L1214.98,226.37 L1223.87,221.92 L1232.75,217.3 L1241.64,212.52 L1250.53,207.57 L1259.41,202.45 L1268.3,197.17 L1277.18,191.73 L1286.07,186.12 L1294.96,180.35 L1303.84,174.41 L1312.73,168.3 L1321.61,162.03 L1330.5,155.71" stroke-width="2"/>
<path d="M1330.5,155.71 L1337.87,162.69 L1345.23,169.55 L1352.6,176.3 L1359.97,182.94 L1367.33,189.47 L1374.7,195.89 L1382.07,202.2 L1389.43,208.39 L1396.8,214.47 L1404.17,220.45 L1411.53,226.31 L1418.9,232.06 L1426.27,237.69 L1433.63,243.22 L1441,248.63 L1448.37,253.94 L1455.73,259.13 L1463.1,264.21 L1470.47,269.17 L1477.83,274.03 L1485.2,278.78 L1492.57,283.41 L1499.93,287.93 L1507.3,292.34 L1514.67,296.64 L1522.03,300.83 L1529.4,304.91 L1536.77,308.87 L1544.13,312.72 L1551.5,316.46 L1558.87,320.09 L1566.23,323.61 L1573.6,327.02 L1580.97,330.31 L1588.33,333.5 L1595.7,336.57 L1603.07,339.53 L1610.43,342.38 L1617.8,345.12" stroke-width="2"/>
<path d="M371.4,333.19 V343.47 M402.74,318.82 V342.56 M434.08,302.44 V341.7 M465.42,284.04 V340.88 M496.76,263.62 V340.12 M528.1,241.18 V339.4 M559.44,216.73 V338.73 M590.78,190.25 V338.11 M666,181.63 V336.81 M697.36,201.14 V336.35 M728.72,218.6 V335.94 M760.08,234.01 V335.58 M791.44,247.35 V335.27 M822.8,258.65 V335 M854.16,267.89 V334.79 M885.52,275.07 V334.62 M916.88,280.2 V334.5 M948.24,283.28 V334.42 M979.6,284.3 V334.4 M1010.96,283.27 V334.42 M1042.32,280.18 V334.5 M1073.68,275.03 V334.62 M1105.04,267.84 V334.79 M1136.4,258.58 V335 M1167.76,247.28 V335.27 M1199.12,233.91 V335.58 M1230.48,218.5 V335.95 M1261.84,201.03 V336.36 M1293.2,181.5 V336.81 M1368.9,190.85 V338.12 M1400.25,217.29 V338.74 M1431.6,241.7 V339.41 M1462.95,264.1 V340.13 M1494.3,284.48 V340.9 M1525.65,302.84 V341.72 M1557,319.18 V342.58 M1588.35,333.51 V343.49" />
<path d="M617.2,124.2 H639.6 V356.1 M617.2,124.2 V356.1" />
<rect x="615" y="131.3" width="27" height="10.4" />
<path d="M615,133.9 H642" />
<path d="M615,136.5 H642" />
<path d="M615,139.1 H642" />
<rect x="619.6" y="173.4" width="18.1" height="164.5" rx="3" />
<path d="M621.5,166.8 A7,6.5 0 0 1 635.5,166.8 Z" />
<rect x="625.3" y="94.4" width="6.6" height="29.8" />
<path d="M623.9,99.5 H633.1" />
<path d="M623.9,102.8 H633.1" />
<path d="M623.9,106.1 H633.1" />
<rect x="627.1" y="96.6" width="2.8" height="16" fill="#000" stroke="none"/>
<path d="M628.5,64 V94.4" stroke-width="3"/>
<path d="M617.2,356.1 L609.3,416 H647.9 L639.6,356.1" />
<rect x="621.6" y="358.1" width="13.8" height="13.2" />
<path d="M1319.2,124.2 H1341.6 V356.1 M1319.2,124.2 V356.1" />
<rect x="1317" y="131.3" width="27" height="10.4" />
<path d="M1317,133.9 H1344" />
<path d="M1317,136.5 H1344" />
<path d="M1317,139.1 H1344" />
<rect x="1321.6" y="173.4" width="18.1" height="164.5" rx="3" />
<path d="M1323.5,166.8 A7,6.5 0 0 1 1337.5,166.8 Z" />
<rect x="1327.3" y="94.4" width="6.6" height="29.8" />
<path d="M1325.9,99.5 H1335.1" />
<path d="M1325.9,102.8 H1335.1" />
<path d="M1325.9,106.1 H1335.1" />
<rect x="1329.1" y="96.6" width="2.8" height="16" fill="#000" stroke="none"/>
<path d="M1330.5,64 V94.4" stroke-width="3"/>
<path d="M1319.2,356.1 L1311.3,416 H1349.9 L1341.6,356.1" />
<rect x="1323.6" y="358.1" width="13.8" height="13.2" />
</g>
<g fill="#000">
<rect x="292" y="334.15" width="8.8" height="24.6" />
<rect x="458.1" y="329.26" width="8.8" height="24.6" />
<rect x="624.2" y="325.72" width="8.8" height="24.6" />
<rect x="800.2" y="323.45" width="8.8" height="24.6" />
<rect x="975.25" y="322.7" width="8.8" height="24.6" />
<rect x="1150.35" y="323.45" width="8.8" height="24.6" />
<rect x="1326" y="325.72" width="8.8" height="24.6" />
<rect x="1492" y="329.25" width="8.8" height="24.6" />
<rect x="1658.3" y="334.15" width="8.8" height="24.6" />
</g>
<text x="285.91" y="426" font-size="55">CS1</text>
<text x="413.18" y="426" font-size="55">CS2</text>
<text x="576.61" y="467" font-size="55">CS3</text>
<text x="755.33" y="413.8" font-size="55">CS4</text>
<text x="929.86" y="413.8" font-size="55">CS5</text>
<text x="1105.99" y="413.8" font-size="55">CS6</text>
<text x="1281.24" y="467" font-size="55">CS7</text>
<text x="1447.56" y="425.5" font-size="55">CS8</text>
<text x="1580.36" y="425.5" font-size="55">CS9</text>
</g>
<path d="M261,1447.8 H269.2 M1729.8,1447.8 H1735.6 M261,1609.61 H269.2 M1729.8,1609.61 H1735.6 M261,1771.41 H269.2 M1729.8,1771.41 H1735.6 M261,1933.22 H269.2 M1729.8,1933.22 H1735.6 M261,2095.03 H269.2 M1729.8,2095.03 H1735.6 M261,2256.84 H269.2 M1729.8,2256.84 H1735.6 M261,2418.64 H269.2 M1729.8,2418.64 H1735.6 M261,2580.45 H269.2 M1729.8,2580.45 H1735.6" stroke="#000" stroke-width="2"/>
<path d="M293.3,2580.45 V2556 M421.75,2580.45 V2556 M550.2,2580.45 V2556 M678.65,2580.45 V2556 M807.1,2580.45 V2556 M935.55,2580.45 V2556 M1064,2580.45 V2556 M1192.45,2580.45 V2556 M1320.9,2580.45 V2556 M1449.35,2580.45 V2556 M1577.8,2580.45 V2556 M1706.25,2580.45 V2556" stroke="#000" stroke-width="5.8"/>
<path d="M261,1447.8 H1738.6 M261,2580.45 H1738.6" stroke="#000" stroke-width="4.8" stroke-linecap="square"/><path d="M261,1447.8 V2580.45 M1738.6,1447.8 V2580.45" stroke="#000" stroke-width="6" stroke-linecap="square"/>
<text x="120.17" y="1461.6" font-size="53">0.020</text>
<text x="120.17" y="1623.41" font-size="53">0.015</text>
<text x="120.17" y="1785.21" font-size="53">0.010</text>
<text x="120.17" y="1947.02" font-size="53">0.005</text>
<text x="120.17" y="2108.83" font-size="53">0.000</text>
<text x="102.42" y="2270.64" font-size="53">-0.005</text>
<text x="102.42" y="2432.44" font-size="53">-0.010</text>
<text x="102.42" y="2594.25" font-size="53">-0.015</text>
<text x="280.05" y="2643.6" font-size="53">0</text>
<text x="395.12" y="2643.6" font-size="53">20</text>
<text x="524.23" y="2643.6" font-size="53">40</text>
<text x="652.02" y="2643.6" font-size="53">60</text>
<text x="780.6" y="2643.6" font-size="53">80</text>
<text x="894.47" y="2643.6" font-size="53">100</text>
<text x="1022.92" y="2643.6" font-size="53">120</text>
<text x="1151.38" y="2643.6" font-size="53">140</text>
<text x="1279.83" y="2643.6" font-size="53">160</text>
<text x="1408.27" y="2643.6" font-size="53">180</text>
<text x="1537.92" y="2643.6" font-size="53">200</text>
<text x="1666.37" y="2643.6" font-size="53">220</text>
<text transform="translate(69.6,2432.08) rotate(-90)" x="0" y="0" font-size="59.8">Change of girder alignment (m)</text>
<g transform="translate(0,2746.9) scale(1,1.055) translate(0,-2746.9)"><text x="677.42" y="2746.9" font-size="57.2">Distance to section CS1 (m)</text></g>
<g font-size="86"><text x="828.13" y="2853.3">(</text><text x="904.06" y="2853.3">)</text><text x="856.21" y="2853.3" font-weight="bold" stroke="#fff" stroke-width="1.2">b</text></g>
<polyline points="292.8,2095.03 463.3,2127.39 633.9,2224.47 813.7,2192.11 993.7,2224.47 1173.5,2127.39 1353.4,2095.03 1523.2,2030.31 1687.8,2062.67" fill="none" stroke="#000" stroke-width="3" stroke-linejoin="round"/>
<g transform="translate(292.8,2095.03)"><path d="M0,-22.2 L19.6,11.6 L-19.6,11.6 Z" fill="#fff" stroke="#000" stroke-width="3" stroke-linejoin="miter"/><rect x="-1.3" y="-1" width="2.6" height="2" fill="#000"/></g><g transform="translate(463.3,2127.39)"><path d="M0,-22.2 L19.6,11.6 L-19.6,11.6 Z" fill="#fff" stroke="#000" stroke-width="3" stroke-linejoin="miter"/><rect x="-1.3" y="-1" width="2.6" height="2" fill="#000"/></g><g transform="translate(633.9,2224.47)"><path d="M0,-22.2 L19.6,11.6 L-19.6,11.6 Z" fill="#fff" stroke="#000" stroke-width="3" stroke-linejoin="miter"/><rect x="-1.3" y="-1" width="2.6" height="2" fill="#000"/></g><g transform="translate(813.7,2192.11)"><path d="M0,-22.2 L19.6,11.6 L-19.6,11.6 Z" fill="#fff" stroke="#000" stroke-width="3" stroke-linejoin="miter"/><rect x="-1.3" y="-1" width="2.6" height="2" fill="#000"/></g><g transform="translate(993.7,2224.47)"><path d="M0,-22.2 L19.6,11.6 L-19.6,11.6 Z" fill="#fff" stroke="#000" stroke-width="3" stroke-linejoin="miter"/><rect x="-1.3" y="-1" width="2.6" height="2" fill="#000"/></g><g transform="translate(1173.5,2127.39)"><path d="M0,-22.2 L19.6,11.6 L-19.6,11.6 Z" fill="#fff" stroke="#000" stroke-width="3" stroke-linejoin="miter"/><rect x="-1.3" y="-1" width="2.6" height="2" fill="#000"/></g><g transform="translate(1353.4,2095.03)"><path d="M0,-22.2 L19.6,11.6 L-19.6,11.6 Z" fill="#fff" stroke="#000" stroke-width="3" stroke-linejoin="miter"/><rect x="-1.3" y="-1" width="2.6" height="2" fill="#000"/></g><g transform="translate(1523.2,2030.31)"><path d="M0,-22.2 L19.6,11.6 L-19.6,11.6 Z" fill="#fff" stroke="#000" stroke-width="3" stroke-linejoin="miter"/><rect x="-1.3" y="-1" width="2.6" height="2" fill="#000"/></g><g transform="translate(1687.8,2062.67)"><path d="M0,-22.2 L19.6,11.6 L-19.6,11.6 Z" fill="#fff" stroke="#000" stroke-width="3" stroke-linejoin="miter"/><rect x="-1.3" y="-1" width="2.6" height="2" fill="#000"/></g>
<polyline points="292.8,2127.39 463.3,2159.75 633.9,2192.11 813.7,2127.39 993.7,2289.2 1173.5,2127.39 1353.4,2062.67 1523.2,2030.31 1687.8,2030.31" fill="none" stroke="#000" stroke-width="3" stroke-linejoin="round"/>
<g transform="translate(292.8,2127.39)"><circle r="18.4" fill="#000"/><circle cx="-5" cy="-5.3" r="9.1" fill="#969696"/><circle cx="-5" cy="-5.3" r="6.6" fill="#c5c5c5"/><circle cx="-5" cy="-5.3" r="3.3" fill="#fbfbfb"/></g><g transform="translate(463.3,2159.75)"><circle r="18.4" fill="#000"/><circle cx="-5" cy="-5.3" r="9.1" fill="#969696"/><circle cx="-5" cy="-5.3" r="6.6" fill="#c5c5c5"/><circle cx="-5" cy="-5.3" r="3.3" fill="#fbfbfb"/></g><g transform="translate(633.9,2192.11)"><circle r="18.4" fill="#000"/><circle cx="-5" cy="-5.3" r="9.1" fill="#969696"/><circle cx="-5" cy="-5.3" r="6.6" fill="#c5c5c5"/><circle cx="-5" cy="-5.3" r="3.3" fill="#fbfbfb"/></g><g transform="translate(813.7,2127.39)"><circle r="18.4" fill="#000"/><circle cx="-5" cy="-5.3" r="9.1" fill="#969696"/><circle cx="-5" cy="-5.3" r="6.6" fill="#c5c5c5"/><circle cx="-5" cy="-5.3" r="3.3" fill="#fbfbfb"/></g><g transform="translate(993.7,2289.2)"><circle r="18.4" fill="#000"/><circle cx="-5" cy="-5.3" r="9.1" fill="#969696"/><circle cx="-5" cy="-5.3" r="6.6" fill="#c5c5c5"/><circle cx="-5" cy="-5.3" r="3.3" fill="#fbfbfb"/></g><g transform="translate(1173.5,2127.39)"><circle r="18.4" fill="#000"/><circle cx="-5" cy="-5.3" r="9.1" fill="#969696"/><circle cx="-5" cy="-5.3" r="6.6" fill="#c5c5c5"/><circle cx="-5" cy="-5.3" r="3.3" fill="#fbfbfb"/></g><g transform="translate(1353.4,2062.67)"><circle r="18.4" fill="#000"/><circle cx="-5" cy="-5.3" r="9.1" fill="#969696"/><circle cx="-5" cy="-5.3" r="6.6" fill="#c5c5c5"/><circle cx="-5" cy="-5.3" r="3.3" fill="#fbfbfb"/></g><g transform="translate(1523.2,2030.31)"><circle r="18.4" fill="#000"/><circle cx="-5" cy="-5.3" r="9.1" fill="#969696"/><circle cx="-5" cy="-5.3" r="6.6" fill="#c5c5c5"/><circle cx="-5" cy="-5.3" r="3.3" fill="#fbfbfb"/></g><g transform="translate(1687.8,2030.31)"><circle r="18.4" fill="#000"/><circle cx="-5" cy="-5.3" r="9.1" fill="#969696"/><circle cx="-5" cy="-5.3" r="6.6" fill="#c5c5c5"/><circle cx="-5" cy="-5.3" r="3.3" fill="#fbfbfb"/></g>
<polyline points="292.8,2159.75 463.3,2127.39 633.9,2095.03 813.7,2095.03 993.7,2386.28 1173.5,2127.39 1353.4,2030.31 1523.2,2030.31 1687.8,1997.94" fill="none" stroke="#000" stroke-width="3" stroke-linejoin="round"/>
<g transform="translate(292.8,2159.75)"><path d="M0,22.2 L19.6,-11.6 L-19.6,-11.6 Z" fill="#fff" stroke="#000" stroke-width="3" stroke-linejoin="miter"/><rect x="-1.3" y="-1" width="2.6" height="2" fill="#000"/></g><g transform="translate(463.3,2127.39)"><path d="M0,22.2 L19.6,-11.6 L-19.6,-11.6 Z" fill="#fff" stroke="#000" stroke-width="3" stroke-linejoin="miter"/><rect x="-1.3" y="-1" width="2.6" height="2" fill="#000"/></g><g transform="translate(633.9,2095.03)"><path d="M0,22.2 L19.6,-11.6 L-19.6,-11.6 Z" fill="#fff" stroke="#000" stroke-width="3" stroke-linejoin="miter"/><rect x="-1.3" y="-1" width="2.6" height="2" fill="#000"/></g><g transform="translate(813.7,2095.03)"><path d="M0,22.2 L19.6,-11.6 L-19.6,-11.6 Z" fill="#fff" stroke="#000" stroke-width="3" stroke-linejoin="miter"/><rect x="-1.3" y="-1" width="2.6" height="2" fill="#000"/></g><g transform="translate(993.7,2386.28)"><path d="M0,22.2 L19.6,-11.6 L-19.6,-11.6 Z" fill="#fff" stroke="#000" stroke-width="3" stroke-linejoin="miter"/><rect x="-1.3" y="-1" width="2.6" height="2" fill="#000"/></g><g transform="translate(1173.5,2127.39)"><path d="M0,22.2 L19.6,-11.6 L-19.6,-11.6 Z" fill="#fff" stroke="#000" stroke-width="3" stroke-linejoin="miter"/><rect x="-1.3" y="-1" width="2.6" height="2" fill="#000"/></g><g transform="translate(1353.4,2030.31)"><path d="M0,22.2 L19.6,-11.6 L-19.6,-11.6 Z" fill="#fff" stroke="#000" stroke-width="3" stroke-linejoin="miter"/><rect x="-1.3" y="-1" width="2.6" height="2" fill="#000"/></g><g transform="translate(1523.2,2030.31)"><path d="M0,22.2 L19.6,-11.6 L-19.6,-11.6 Z" fill="#fff" stroke="#000" stroke-width="3" stroke-linejoin="miter"/><rect x="-1.3" y="-1" width="2.6" height="2" fill="#000"/></g><g transform="translate(1687.8,1997.94)"><path d="M0,22.2 L19.6,-11.6 L-19.6,-11.6 Z" fill="#fff" stroke="#000" stroke-width="3" stroke-linejoin="miter"/><rect x="-1.3" y="-1" width="2.6" height="2" fill="#000"/></g>
<rect x="1143" y="2404" width="525" height="48" fill="#fff"/>
<path d="M1034.2,2358.5 H1139.8" stroke="#000" stroke-width="3"/>
<path d="M1034.2,2429.7 H1139.8" stroke="#000" stroke-width="3"/>
<path d="M1034.2,2500.8 H1139.8" stroke="#000" stroke-width="3"/>
<g transform="translate(1087.7,2358.5)"><path d="M0,-22.2 L19.6,11.6 L-19.6,11.6 Z" fill="#fff" stroke="#000" stroke-width="3" stroke-linejoin="miter"/><rect x="-1.3" y="-1" width="2.6" height="2" fill="#000"/></g>
<g transform="translate(1087.7,2429.7)"><circle r="18.4" fill="#000"/><circle cx="-5" cy="-5.3" r="9.1" fill="#969696"/><circle cx="-5" cy="-5.3" r="6.6" fill="#c5c5c5"/><circle cx="-5" cy="-5.3" r="3.3" fill="#fbfbfb"/></g>
<g transform="translate(1087.7,2500.8)"><path d="M0,22.2 L19.6,-11.6 L-19.6,-11.6 Z" fill="#fff" stroke="#000" stroke-width="3" stroke-linejoin="miter"/><rect x="-1.3" y="-1" width="2.6" height="2" fill="#000"/></g>
<text x="1153.73" y="2375.1" font-size="56.3">North bicycle lane (DB1)</text>
<text x="1153.71" y="2445.7" font-size="56.3">Road centerline (DB2)</text>
<text x="1151.74" y="2516.9" font-size="56.3">South bicycle lane (DB3)</text>
</g>
<g id="chartC">
<path d="M224.3,3250.11 H1736.7" stroke="#000" stroke-width="2.6" stroke-dasharray="9.3 5.5"/>
<path d="M224.3,3360.58 H1736.7" stroke="#000" stroke-width="2.6" stroke-dasharray="9.3 5.5"/>
<path d="M224.3,3471.05 H1736.7" stroke="#000" stroke-width="2.6" stroke-dasharray="9.3 5.5"/>
<path d="M224.3,3581.52 H1736.7" stroke="#000" stroke-width="2.6" stroke-dasharray="9.3 5.5"/>
<path d="M224.3,3691.99 H1736.7" stroke="#000" stroke-width="2.6" stroke-dasharray="9.3 5.5"/>
<path d="M224.3,3802.46 H1736.7" stroke="#000" stroke-width="2.6" stroke-dasharray="9.3 5.5"/>
<path d="M224.3,3912.93 H1736.7" stroke="#000" stroke-width="2.6" stroke-dasharray="9.3 5.5"/>
<g fill="none" stroke="#18232d" stroke-width="1.9">
<path d="M244.7,3013.4 L476,3010.7 L560,3009.5 L700,3008 L800,3005.6 L880,3004.8 L962.3,3004.5" />
<path d="M244.7,3013.4 V3019.8 L327.8,3027.9 L346.1,3078.3 L706.9,3078.3 L722.9,3022.1 L800,3013 L880,3010.5 L962.3,3009.7" />
<polygon points="337,3026.7 361,3018.7 432.2,3018.7 452.8,3025.6 452.8,3066.9 443.7,3073.1 361.7,3073.1 350.7,3068" />
<polygon points="463.5,3024 486,3017.3 562,3016.4 585.8,3022.1 585.8,3069.2 577,3073.8 472,3073.8 463.5,3069.2" />
<polygon points="596,3023.3 618.5,3014.8 690.8,3014.8 711.4,3022.1 697.7,3068 687.4,3073.8 607,3073.8 596,3069.2" />
<g transform="matrix(-1,0,0,1,1924.6,0)">
<path d="M244.7,3013.4 L476,3010.7 L560,3009.5 L700,3008 L800,3005.6 L880,3004.8 L962.3,3004.5" />
<path d="M244.7,3013.4 V3019.8 L327.8,3027.9 L346.1,3078.3 L706.9,3078.3 L722.9,3022.1 L800,3013 L880,3010.5 L962.3,3009.7" />
<polygon points="337,3026.7 361,3018.7 432.2,3018.7 452.8,3025.6 452.8,3066.9 443.7,3073.1 361.7,3073.1 350.7,3068" />
<polygon points="463.5,3024 486,3017.3 562,3016.4 585.8,3022.1 585.8,3069.2 577,3073.8 472,3073.8 463.5,3069.2" />
<polygon points="596,3023.3 618.5,3014.8 690.8,3014.8 711.4,3022.1 697.7,3068 687.4,3073.8 607,3073.8 596,3069.2" />
</g>
<path d="M309.4,2993.1 L328.2,3018.6 M1615.2,2993.1 L1596.4,3018.6 M439.5,2991.1 L458.3,3016.6 M1485.1,2991.1 L1466.3,3016.6 M572.2,2990 L591,3015.5 M1352.4,2990 L1333.6,3015.5 M701.3,2987.9 L720.1,3013.4 M1223.3,2987.9 L1204.5,3013.4 M331.2,3097.8 L348.9,3073.8 M1593.4,3097.8 L1575.7,3073.8 M440.3,3097.8 L458,3073.8 M1484.3,3097.8 L1466.6,3073.8 M573.3,3097.8 L591,3073.8 M1351.3,3097.8 L1333.6,3073.8 M682.2,3097.8 L699.9,3073.8 M1242.4,3097.8 L1224.7,3073.8" />
<path d="M962.3,2977.2 V3080.4" stroke-dasharray="62 4 5 4" />
</g>
<g fill="#18232d">
<circle cx="328.2" cy="3018.6" r="6.8"/>
<circle cx="1596.4" cy="3018.6" r="6.8"/>
<circle cx="458.3" cy="3016.6" r="6.8"/>
<circle cx="1466.3" cy="3016.6" r="6.8"/>
<circle cx="591" cy="3015.5" r="6.8"/>
<circle cx="1333.6" cy="3015.5" r="6.8"/>
<circle cx="720.1" cy="3013.4" r="6.8"/>
<circle cx="1204.5" cy="3013.4" r="6.8"/>
<circle cx="348.9" cy="3073.8" r="6.8"/>
<circle cx="1575.7" cy="3073.8" r="6.8"/>
<circle cx="458" cy="3073.8" r="6.8"/>
<circle cx="1466.6" cy="3073.8" r="6.8"/>
<circle cx="591" cy="3073.8" r="6.8"/>
<circle cx="1333.6" cy="3073.8" r="6.8"/>
<circle cx="699.9" cy="3073.8" r="6.8"/>
<circle cx="1224.7" cy="3073.8" r="6.8"/>
</g>
<text x="242.21" y="2992.3" font-size="55" fill="#18232d">SU1</text>
<text x="374.77" y="2992.3" font-size="55" fill="#18232d">SU2</text>
<text x="502.41" y="2992.3" font-size="55" fill="#18232d">SU3</text>
<text x="633.38" y="2992.3" font-size="55" fill="#18232d">SU4</text>
<text x="260.76" y="3137.7" font-size="55" fill="#18232d">SD1</text>
<text x="371.12" y="3137.7" font-size="55" fill="#18232d">SD2</text>
<text x="502.41" y="3137.7" font-size="55" fill="#18232d">SD3</text>
<text x="611.12" y="3137.7" font-size="55" fill="#18232d">SD4</text>
<text x="1194.86" y="2992.3" font-size="55" fill="#18232d">SU5</text>
<text x="1322.14" y="2992.3" font-size="55" fill="#18232d">SU6</text>
<text x="1454.84" y="2992.3" font-size="55" fill="#18232d">SU7</text>
<text x="1584.11" y="2992.3" font-size="55" fill="#18232d">SU8</text>
<text x="1213.51" y="3137.7" font-size="55" fill="#18232d">SD5</text>
<text x="1321.09" y="3137.7" font-size="55" fill="#18232d">SD6</text>
<text x="1454.84" y="3137.7" font-size="55" fill="#18232d">SD7</text>
<text x="1563.51" y="3137.7" font-size="55" fill="#18232d">SD8</text>
<text x="464.97" y="3063" font-size="51" fill="#18232d">North</text>
<text x="1338.43" y="3063" font-size="51" fill="#18232d">South</text>
<path d="M226,2918.7 H232 M1727,2918.7 H1732 M226,3029.17 H232 M1727,3029.17 H1732 M226,3139.64 H232 M1727,3139.64 H1732 M226,3250.11 H232 M1727,3250.11 H1732 M226,3360.58 H232 M1727,3360.58 H1732 M226,3471.05 H232 M1727,3471.05 H1732 M226,3581.52 H232 M1727,3581.52 H1732 M226,3691.99 H232 M1727,3691.99 H1732 M226,3802.46 H232 M1727,3802.46 H1732 M226,3912.93 H232 M1727,3912.93 H1732 M226,4023.4 H232 M1727,4023.4 H1732" stroke="#000" stroke-width="2"/>
<path d="M283.05,4023.4 V3999 M421.3,4023.4 V3999 M559.55,4023.4 V3999 M697.8,4023.4 V3999 M836.05,4023.4 V3999 M974.3,4023.4 V3999 M1112.55,4023.4 V3999 M1250.8,4023.4 V3999 M1389.05,4023.4 V3999 M1527.3,4023.4 V3999 M1665.55,4023.4 V3999" stroke="#000" stroke-width="4.9"/>
<path d="M226,2918.7 H1736.7 M226,4023.4 H1736.7" stroke="#000" stroke-width="5" stroke-linecap="square"/><path d="M226,2918.7 V4023.4 M1736.7,2918.7 V4023.4" stroke="#000" stroke-width="6" stroke-linecap="square"/>
<text x="137.66" y="2932.1" font-size="53">1.2</text>
<text x="136.87" y="3042.57" font-size="53">1.0</text>
<text x="136.87" y="3153.04" font-size="53">0.8</text>
<text x="136.34" y="3263.51" font-size="53">0.6</text>
<text x="135.55" y="3373.98" font-size="53">0.4</text>
<text x="137.66" y="3484.45" font-size="53">0.2</text>
<text x="136.87" y="3594.92" font-size="53">0.0</text>
<text x="119.91" y="3705.39" font-size="53">-0.2</text>
<text x="117.79" y="3815.86" font-size="53">-0.4</text>
<text x="118.59" y="3926.33" font-size="53">-0.6</text>
<text x="119.12" y="4036.8" font-size="53">-0.8</text>
<text x="246.3" y="4085.6" font-size="53">-25</text>
<text x="384.55" y="4085.6" font-size="53">-20</text>
<text x="522.8" y="4085.6" font-size="53">-15</text>
<text x="661.05" y="4085.6" font-size="53">-10</text>
<text x="812.55" y="4085.6" font-size="53">-5</text>
<text x="961.05" y="4085.6" font-size="53">0</text>
<text x="1098.77" y="4085.6" font-size="53">5</text>
<text x="1222.97" y="4085.6" font-size="53">10</text>
<text x="1361.22" y="4085.6" font-size="53">15</text>
<text x="1500.67" y="4085.6" font-size="53">20</text>
<text x="1638.92" y="4085.6" font-size="53">25</text>
<text transform="translate(77.8,4003.85) rotate(-90)" x="0" y="0" font-size="57.8">Change of longitudinal girder stress (MPa)</text>
<text x="618.63" y="4191" font-size="58.2">Distance to road centerline (m)</text>
<g font-size="86"><text x="835.03" y="4297.4">(</text><text x="896.96" y="4297.4">)</text><text x="861.93" y="4297.4" font-weight="bold" stroke="#fff" stroke-width="1.2">c</text></g>
<polyline points="337.1,3733 468.8,3663.4 600.5,3599.8 732,3522.9 1215.8,3656.6 1346.9,3602.9 1479,3542 1610.2,3525.4" fill="none" stroke="#000" stroke-width="3.6" stroke-linejoin="round" stroke-dasharray="8.5 5.5"/>
<g transform="translate(337.1,3733)"><ellipse rx="16.9" ry="15.9" fill="none" stroke="#000" stroke-width="3.6"/><path d="M-16.9,0 H16.9 M0,-15.9 V15.9" stroke="#000" stroke-width="4.3"/></g><g transform="translate(468.8,3663.4)"><ellipse rx="16.9" ry="15.9" fill="none" stroke="#000" stroke-width="3.6"/><path d="M-16.9,0 H16.9 M0,-15.9 V15.9" stroke="#000" stroke-width="4.3"/></g><g transform="translate(600.5,3599.8)"><ellipse rx="16.9" ry="15.9" fill="none" stroke="#000" stroke-width="3.6"/><path d="M-16.9,0 H16.9 M0,-15.9 V15.9" stroke="#000" stroke-width="4.3"/></g><g transform="translate(732,3522.9)"><ellipse rx="16.9" ry="15.9" fill="none" stroke="#000" stroke-width="3.6"/><path d="M-16.9,0 H16.9 M0,-15.9 V15.9" stroke="#000" stroke-width="4.3"/></g><g transform="translate(1215.8,3656.6)"><ellipse rx="16.9" ry="15.9" fill="none" stroke="#000" stroke-width="3.6"/><path d="M-16.9,0 H16.9 M0,-15.9 V15.9" stroke="#000" stroke-width="4.3"/></g><g transform="translate(1346.9,3602.9)"><ellipse rx="16.9" ry="15.9" fill="none" stroke="#000" stroke-width="3.6"/><path d="M-16.9,0 H16.9 M0,-15.9 V15.9" stroke="#000" stroke-width="4.3"/></g><g transform="translate(1479,3542)"><ellipse rx="16.9" ry="15.9" fill="none" stroke="#000" stroke-width="3.6"/><path d="M-16.9,0 H16.9 M0,-15.9 V15.9" stroke="#000" stroke-width="4.3"/></g><g transform="translate(1610.2,3525.4)"><ellipse rx="16.9" ry="15.9" fill="none" stroke="#000" stroke-width="3.6"/><path d="M-16.9,0 H16.9 M0,-15.9 V15.9" stroke="#000" stroke-width="4.3"/></g>
<polyline points="359.5,3526 468.5,3446.8 601.6,3359.7 710.3,3276 1237.6,3294.8 1346.5,3370.9 1479.6,3389.8 1588.7,3249.7" fill="none" stroke="#000" stroke-width="3.6" stroke-linejoin="round" stroke-dasharray="8.5 5.5"/>
<g transform="translate(359.5,3526)"><rect x="-14.5" y="-13.9" width="29" height="27.8" fill="none" stroke="#000" stroke-width="4"/><path d="M-14.5,0 H14.5 M0,-13.9 V13.9" stroke="#000" stroke-width="4.3"/></g><g transform="translate(468.5,3446.8)"><rect x="-14.5" y="-13.9" width="29" height="27.8" fill="none" stroke="#000" stroke-width="4"/><path d="M-14.5,0 H14.5 M0,-13.9 V13.9" stroke="#000" stroke-width="4.3"/></g><g transform="translate(601.6,3359.7)"><rect x="-14.5" y="-13.9" width="29" height="27.8" fill="none" stroke="#000" stroke-width="4"/><path d="M-14.5,0 H14.5 M0,-13.9 V13.9" stroke="#000" stroke-width="4.3"/></g><g transform="translate(710.3,3276)"><rect x="-14.5" y="-13.9" width="29" height="27.8" fill="none" stroke="#000" stroke-width="4"/><path d="M-14.5,0 H14.5 M0,-13.9 V13.9" stroke="#000" stroke-width="4.3"/></g><g transform="translate(1237.6,3294.8)"><rect x="-14.5" y="-13.9" width="29" height="27.8" fill="none" stroke="#000" stroke-width="4"/><path d="M-14.5,0 H14.5 M0,-13.9 V13.9" stroke="#000" stroke-width="4.3"/></g><g transform="translate(1346.5,3370.9)"><rect x="-14.5" y="-13.9" width="29" height="27.8" fill="none" stroke="#000" stroke-width="4"/><path d="M-14.5,0 H14.5 M0,-13.9 V13.9" stroke="#000" stroke-width="4.3"/></g><g transform="translate(1479.6,3389.8)"><rect x="-14.5" y="-13.9" width="29" height="27.8" fill="none" stroke="#000" stroke-width="4"/><path d="M-14.5,0 H14.5 M0,-13.9 V13.9" stroke="#000" stroke-width="4.3"/></g><g transform="translate(1588.7,3249.7)"><rect x="-14.5" y="-13.9" width="29" height="27.8" fill="none" stroke="#000" stroke-width="4"/><path d="M-14.5,0 H14.5 M0,-13.9 V13.9" stroke="#000" stroke-width="4.3"/></g>
<polyline points="336.8,3415.1 467.6,3331.9 600.9,3294.7 731.9,3390.4 1215.9,3525.6 1346.9,3466.7 1479.4,3370 1610.2,3616.8" fill="none" stroke="#000" stroke-width="3" stroke-linejoin="round"/>
<g transform="translate(336.8,3415.1)"><circle r="18.4" fill="#000"/><circle cx="-5" cy="-5.3" r="9.1" fill="#969696"/><circle cx="-5" cy="-5.3" r="6.6" fill="#c5c5c5"/><circle cx="-5" cy="-5.3" r="3.3" fill="#fbfbfb"/></g><g transform="translate(467.6,3331.9)"><circle r="18.4" fill="#000"/><circle cx="-5" cy="-5.3" r="9.1" fill="#969696"/><circle cx="-5" cy="-5.3" r="6.6" fill="#c5c5c5"/><circle cx="-5" cy="-5.3" r="3.3" fill="#fbfbfb"/></g><g transform="translate(600.9,3294.7)"><circle r="18.4" fill="#000"/><circle cx="-5" cy="-5.3" r="9.1" fill="#969696"/><circle cx="-5" cy="-5.3" r="6.6" fill="#c5c5c5"/><circle cx="-5" cy="-5.3" r="3.3" fill="#fbfbfb"/></g><g transform="translate(731.9,3390.4)"><circle r="18.4" fill="#000"/><circle cx="-5" cy="-5.3" r="9.1" fill="#969696"/><circle cx="-5" cy="-5.3" r="6.6" fill="#c5c5c5"/><circle cx="-5" cy="-5.3" r="3.3" fill="#fbfbfb"/></g><g transform="translate(1215.9,3525.6)"><circle r="18.4" fill="#000"/><circle cx="-5" cy="-5.3" r="9.1" fill="#969696"/><circle cx="-5" cy="-5.3" r="6.6" fill="#c5c5c5"/><circle cx="-5" cy="-5.3" r="3.3" fill="#fbfbfb"/></g><g transform="translate(1346.9,3466.7)"><circle r="18.4" fill="#000"/><circle cx="-5" cy="-5.3" r="9.1" fill="#969696"/><circle cx="-5" cy="-5.3" r="6.6" fill="#c5c5c5"/><circle cx="-5" cy="-5.3" r="3.3" fill="#fbfbfb"/></g><g transform="translate(1479.4,3370)"><circle r="18.4" fill="#000"/><circle cx="-5" cy="-5.3" r="9.1" fill="#969696"/><circle cx="-5" cy="-5.3" r="6.6" fill="#c5c5c5"/><circle cx="-5" cy="-5.3" r="3.3" fill="#fbfbfb"/></g><g transform="translate(1610.2,3616.8)"><circle r="18.4" fill="#000"/><circle cx="-5" cy="-5.3" r="9.1" fill="#969696"/><circle cx="-5" cy="-5.3" r="6.6" fill="#c5c5c5"/><circle cx="-5" cy="-5.3" r="3.3" fill="#fbfbfb"/></g>
<polyline points="359.7,3637.8 468.5,3752.7 601.8,3771.6 710.7,3676.8 1237.4,3771.7 1346.9,3638.5 1479,3734 1588.5,3801.6" fill="none" stroke="#000" stroke-width="3" stroke-linejoin="round"/>
<g transform="translate(359.7,3637.8)"><rect x="-16.3" y="-16" width="32.6" height="32" fill="#000"/></g><g transform="translate(468.5,3752.7)"><rect x="-16.3" y="-16" width="32.6" height="32" fill="#000"/></g><g transform="translate(601.8,3771.6)"><rect x="-16.3" y="-16" width="32.6" height="32" fill="#000"/></g><g transform="translate(710.7,3676.8)"><rect x="-16.3" y="-16" width="32.6" height="32" fill="#000"/></g><g transform="translate(1237.4,3771.7)"><rect x="-16.3" y="-16" width="32.6" height="32" fill="#000"/></g><g transform="translate(1346.9,3638.5)"><rect x="-16.3" y="-16" width="32.6" height="32" fill="#000"/></g><g transform="translate(1479,3734)"><rect x="-16.3" y="-16" width="32.6" height="32" fill="#000"/></g><g transform="translate(1588.5,3801.6)"><rect x="-16.3" y="-16" width="32.6" height="32" fill="#000"/></g>
<rect x="315" y="3827" width="1338.7" height="157.3" fill="#fff" stroke="#000" stroke-width="2.2"/>
<path d="M358.4,3872.9 H466" stroke="#000" stroke-width="3" stroke-dasharray="7 5.5"/>
<g transform="translate(413.6,3872.9)"><ellipse rx="16.9" ry="15.9" fill="none" stroke="#000" stroke-width="3.6"/><path d="M-16.9,0 H16.9 M0,-15.9 V15.9" stroke="#000" stroke-width="4.3"/></g>
<path d="M358.4,3943.5 H466" stroke="#000" stroke-width="3"/>
<g transform="translate(413.6,3943.5)"><circle r="18.4" fill="#000"/><circle cx="-5" cy="-5.3" r="9.1" fill="#969696"/><circle cx="-5" cy="-5.3" r="6.6" fill="#c5c5c5"/><circle cx="-5" cy="-5.3" r="3.3" fill="#fbfbfb"/></g>
<path d="M847.1,3873.3 H953.8" stroke="#000" stroke-width="3" stroke-dasharray="7 5.5"/>
<g transform="translate(901.8,3873.3)"><rect x="-14.5" y="-13.9" width="29" height="27.8" fill="none" stroke="#000" stroke-width="4"/><path d="M-14.5,0 H14.5 M0,-13.9 V13.9" stroke="#000" stroke-width="4.3"/></g>
<path d="M852.3,3942.8 H960.7" stroke="#000" stroke-width="3"/>
<g transform="translate(906.1,3943.4)"><rect x="-16.3" y="-16" width="32.6" height="32" fill="#000"/></g>
<text x="483.25" y="3889.5" font-size="57.3">Top plate_C2</text>
<text x="483.25" y="3960.2" font-size="57.3">Top plate_C7</text>
<text x="969.73" y="3888.8" font-size="57.3">Bottom plate_C2 (sidespan)</text>
<text x="973.35" y="3958.8" font-size="57.3">Bottom plate_C7 (midspan)</text>
</g>
</svg>
</body></html>
